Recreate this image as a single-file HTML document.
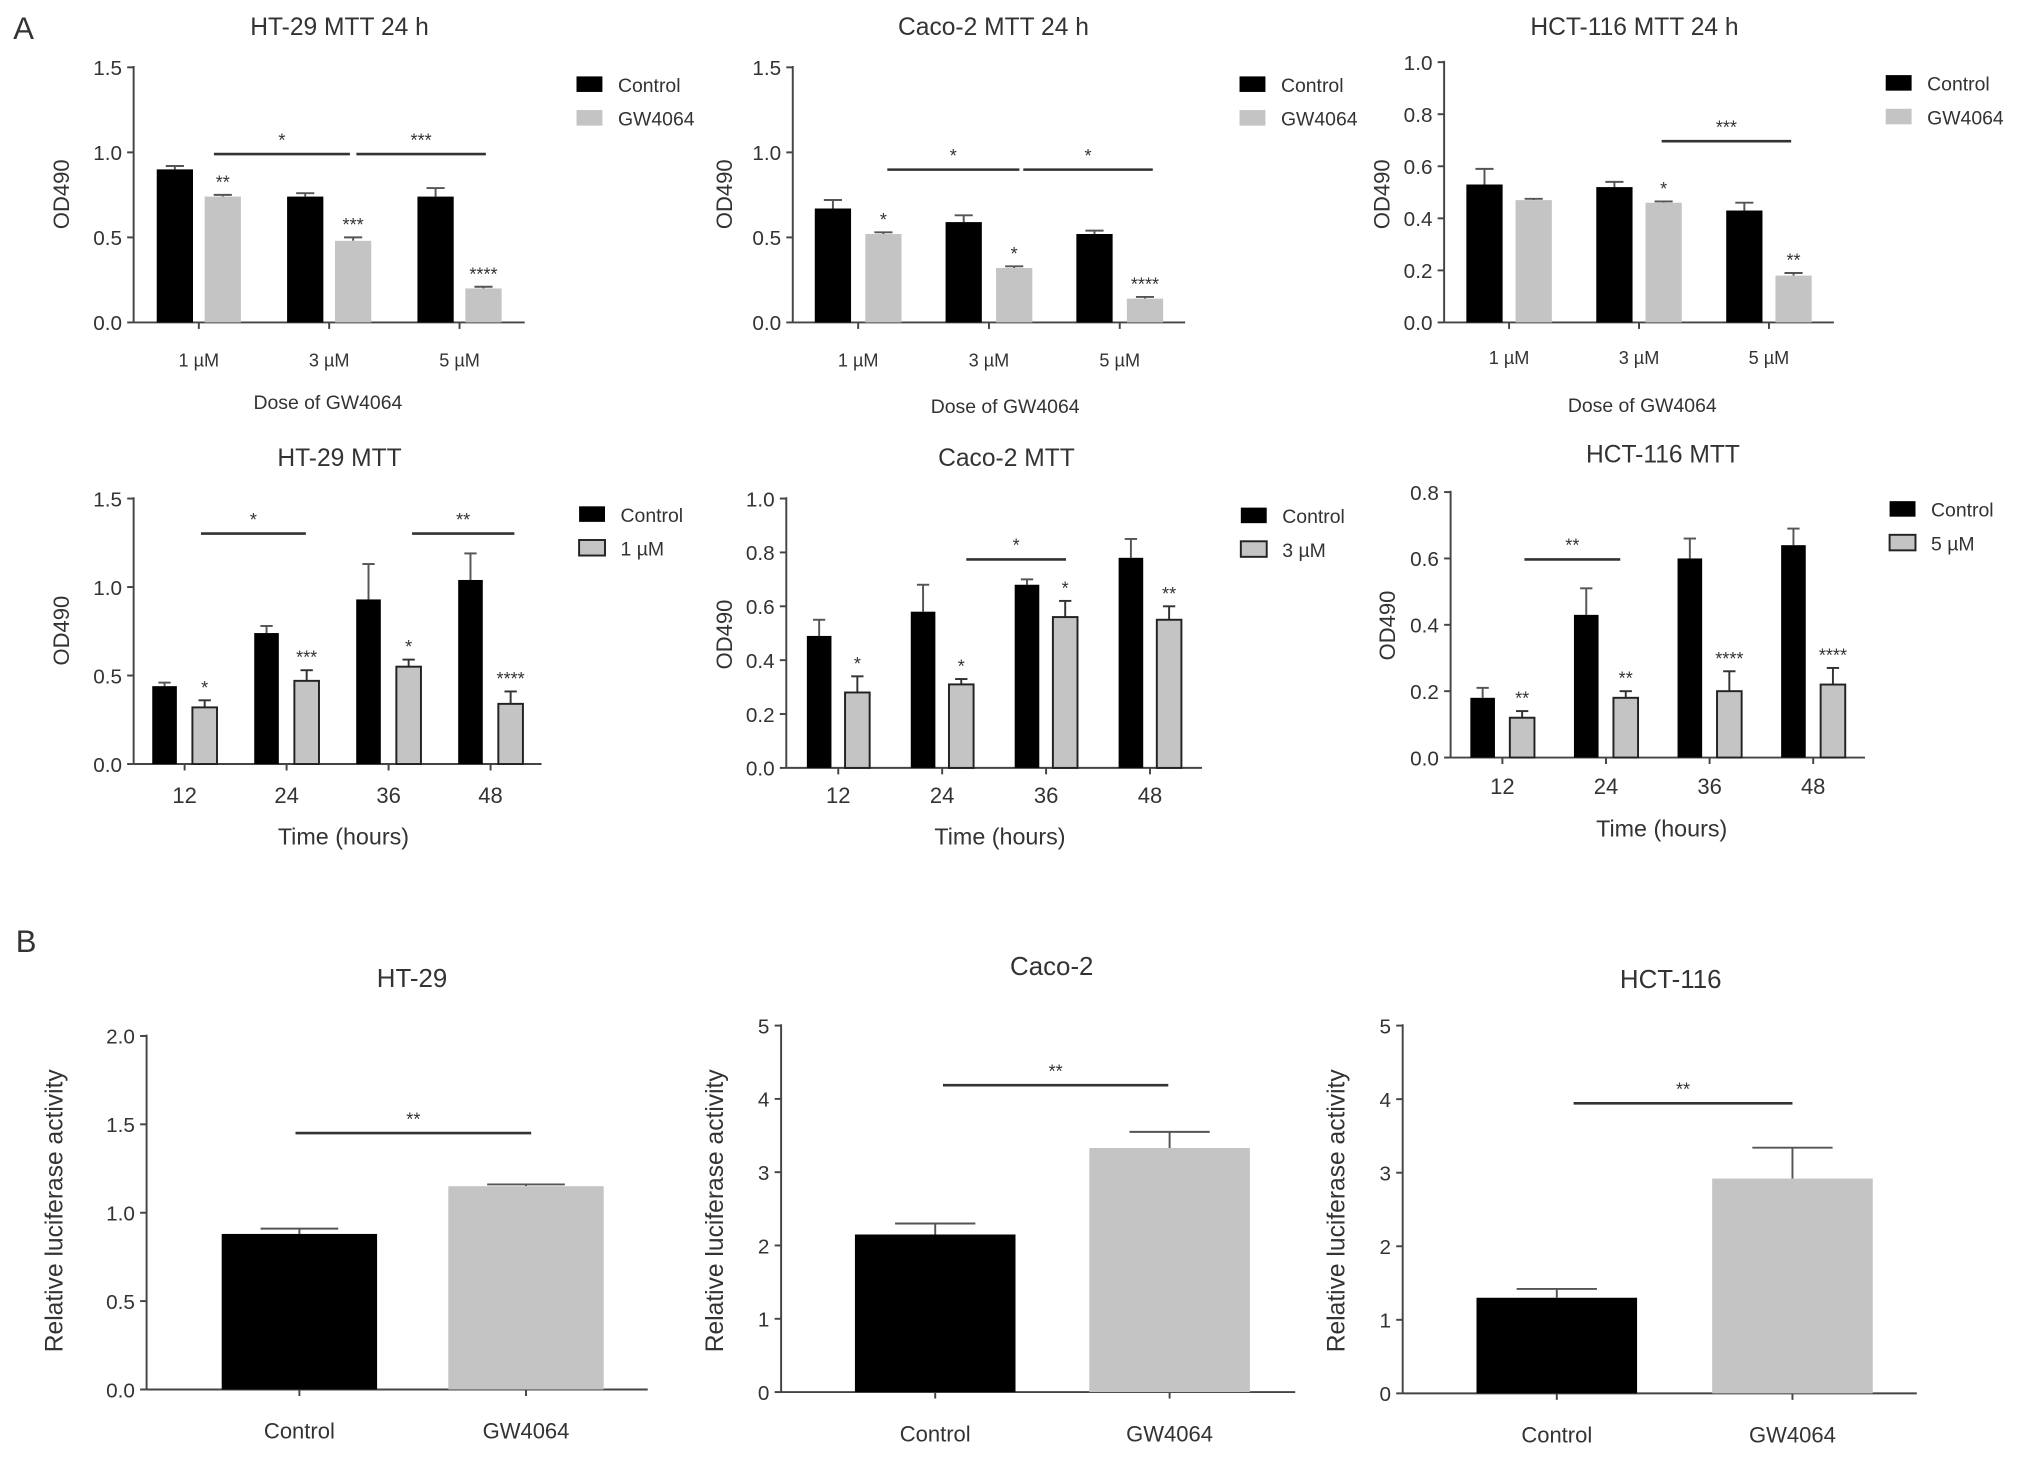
<!DOCTYPE html>
<html><head><meta charset="utf-8"><style>
html,body{margin:0;padding:0;background:#fff}
svg{display:block}
text{font-family:"Liberation Sans",sans-serif;fill:#333}
</style></head><body>
<svg id="fig" width="2031" height="1462" viewBox="0 0 1568 1129" xmlns="http://www.w3.org/2000/svg">
<text x="10" y="30" font-size="24">A</text>
<text x="12" y="735" font-size="24">B</text>
</svg>
<script>
// ----- data -----
const doseCats = ["1 µM","3 µM","5 µM"];
const timeCats = ["12","24","36","48"];
const lucCats = ["Control","GW4064"];
const ht29DoseCtrl = [0.90,0.74,0.74], ht29DoseGW = [0.74,0.48,0.20];
const ht29DoseCtrlErr = [0.02,0.02,0.05], ht29DoseGWErr = [0.01,0.02,0.01];
const caco2DoseCtrl = [0.67,0.59,0.52], caco2DoseGW = [0.52,0.32,0.14];
const caco2DoseCtrlErr = [0.05,0.04,0.02], caco2DoseGWErr = [0.01,0.01,0.01];
const hctDoseCtrl = [0.53,0.52,0.43], hctDoseGW = [0.47,0.46,0.18];
const hctDoseCtrlErr = [0.06,0.02,0.03], hctDoseGWErr = [0.005,0.005,0.01];
const ht29TimeCtrl = [0.44,0.74,0.93,1.04], ht29TimeTrt = [0.32,0.47,0.55,0.34];
const ht29TimeCtrlErr = [0.02,0.04,0.20,0.15], ht29TimeTrtErr = [0.04,0.06,0.04,0.07];
const caco2TimeCtrl = [0.49,0.58,0.68,0.78], caco2TimeTrt = [0.28,0.31,0.56,0.55];
const caco2TimeCtrlErr = [0.06,0.10,0.02,0.07], caco2TimeTrtErr = [0.06,0.02,0.06,0.05];
const hctTimeCtrl = [0.18,0.43,0.60,0.64], hctTimeTrt = [0.12,0.18,0.20,0.22];
const hctTimeCtrlErr = [0.03,0.08,0.06,0.05], hctTimeTrtErr = [0.02,0.02,0.06,0.05];
const ht29Luc = [0.88,1.15], ht29LucErr = [0.03,0.01];
const caco2Luc = [2.15,3.33], caco2LucErr = [0.15,0.22];
const hctLuc = [1.30,2.92], hctLucErr = [0.12,0.42];
const ticks15 = ["0.0","0.5","1.0","1.5"];
const ticks10 = ["0.0","0.2","0.4","0.6","0.8","1.0"];
const ticks08 = ["0.0","0.2","0.4","0.6","0.8"];
const ticks20 = ["0.0","0.5","1.0","1.5","2.0"];
const ticks5 = ["0","1","2","3","4","5"];

const NS="http://www.w3.org/2000/svg", svg=document.getElementById('fig');
function mk(tag,at,parent){const e=document.createElementNS(NS,tag);for(const k in at)e.setAttribute(k,at[k]);(parent||svg).appendChild(e);return e;}
function txt(s,x,y,size,anchor,parent,rot){const t=mk('text',{x:x,y:y,'font-size':size,'text-anchor':anchor||'middle'},parent);if(rot)t.setAttribute('transform','rotate(-90 '+x+' '+y+')');t.textContent=s;return t;}

function panel(o){
  const g=mk('g',{});
  
  
  const ymax=parseFloat(o.ticks[o.ticks.length-1]);
  const y=v=>o.y0-(v/ymax)*(o.y0-o.ytop);
  const n=o.cats.length;
  mk('line',{x1:o.ax,y1:o.ytop-1,x2:o.ax,y2:o.y0,stroke:'#444','stroke-width':1.5},g);
  mk('line',{x1:o.ax,y1:o.y0,x2:o.axEnd,y2:o.y0,stroke:'#444','stroke-width':1.5},g);
  o.ticks.forEach(t=>{const yy=y(parseFloat(t));
    mk('line',{x1:o.ax-5,y1:yy,x2:o.ax,y2:yy,stroke:'#444','stroke-width':1.5},g);
    const tl=txt(t,o.ax-9,yy+6,o.tfs||16,'end',g);
    
    });
  const gw=(o.axEnd-o.ax)/n;
  o.cats.forEach((c,i)=>{const cx=o.cx0!==undefined?o.cx0+i*o.cstep:o.ax+gw*(i+0.5);
    mk('line',{x1:cx,y1:o.y0,x2:cx,y2:o.y0+5,stroke:'#444','stroke-width':1.5},g);
    const l=txt(c,cx,o.y0+o.xlOff,o.xfs||16,'middle',g);
    
    
    o.series.forEach((s,j)=>{
      const bx=cx+(j-(o.series.length-1)/2)*o.pitch-o.bw/2;
      const v=s.vals[i],e=s.err[i];
      const ex=bx+o.bw/2;
      const fill=s.fills?s.fills[i]:s.fill;
      mk('line',{x1:ex,y1:y(v),x2:ex,y2:y(v+e),stroke:s.outline?'#333':'#555','stroke-width':1.5},g);
      mk('line',{x1:ex-o.bw*0.25,y1:y(v+e),x2:ex+o.bw*0.25,y2:y(v+e),stroke:s.outline?'#333':'#555','stroke-width':1.5},g);
      const r=mk('rect',{x:bx,y:y(v),width:o.bw,height:o.y0-y(v),fill:fill,stroke:s.outline?'#222':'none','stroke-width':1.5},g);
      
      
      if(s.stars&&s.stars[i]){const st=txt(s.stars[i],ex,y(v+e)-5,14,'middle',g);
        
        }
    });
  });
  (o.brackets||[]).forEach(b=>{mk('line',{x1:b[0],y1:b[2],x2:b[1],y2:b[2],stroke:'#333','stroke-width':2},g);
    const st=txt(b[3],(b[0]+b[1])/2,b[2]-6,14,'middle',g);
    
    });
  const ti=txt(o.title,o.tx,o.ty,o.tsz||19,'middle',g);
  
  
  const yl=txt(o.ylabel,o.ylx,o.yly,o.ylfs||17,'middle',g,true);
  
  
  if(o.xtitle){const xt=txt(o.xtitle,o.xtx,o.xty,o.xtfs||15,'middle',g);
    
    }
  if(o.legend){o.series.forEach((s,j)=>{const ly=o.legend[1]+j*26;
    const lr=mk('rect',{x:o.legend[0],y:ly-13,width:20,height:12,fill:s.fill,stroke:s.outline?'#222':'none','stroke-width':1.5},g);
    
    
    const lt=txt(s.label,o.legend[0]+32,ly-1,15,'start',g);
    
    });}
}
const BLK='#000',GRY='#c4c4c4';
panel({name:'ht29-mtt-24h',title:'HT-29 MTT 24 h',tx:262,ty:27,ax:103,axEnd:405,y0:249,ytop:52,ticks:ticks15,cats:doseCats,xlOff:34,xfs:14,pitch:37,bw:28,
 series:[{key:'control',label:'Control',fill:BLK,vals:ht29DoseCtrl,err:ht29DoseCtrlErr},{key:'gw4064',label:'GW4064',fill:GRY,vals:ht29DoseGW,err:ht29DoseGWErr,stars:['**','***','****']}],
 brackets:[[165,270,119,'*'],[275,375,119,'***']],ylabel:'OD490',ylx:53,yly:150,xtitle:'Dose of GW4064',xtx:253,xty:316,legend:[445,72]});
panel({name:'caco2-mtt-24h',title:'Caco-2 MTT 24 h',tx:767,ty:27,ax:612,axEnd:915,y0:249,ytop:52,ticks:ticks15,cats:doseCats,xlOff:34,xfs:14,pitch:39,bw:28,
 series:[{key:'control',label:'Control',fill:BLK,vals:caco2DoseCtrl,err:caco2DoseCtrlErr},{key:'gw4064',label:'GW4064',fill:GRY,vals:caco2DoseGW,err:caco2DoseGWErr,stars:['*','*','****']}],
 brackets:[[685,787,131,'*'],[790,890,131,'*']],ylabel:'OD490',ylx:565,yly:150,xtitle:'Dose of GW4064',xtx:776,xty:319,legend:[957,72]});
panel({name:'hct116-mtt-24h',title:'HCT-116 MTT 24 h',tx:1262,ty:27,ax:1115,axEnd:1416,y0:249,ytop:48,ticks:ticks10,cats:doseCats,xlOff:32,xfs:14,pitch:38,bw:28,
 series:[{key:'control',label:'Control',fill:BLK,vals:hctDoseCtrl,err:hctDoseCtrlErr},{key:'gw4064',label:'GW4064',fill:GRY,vals:hctDoseGW,err:hctDoseGWErr,stars:['','*','**']}],
 brackets:[[1283,1383,109,'***']],ylabel:'OD490',ylx:1073,yly:150,xtitle:'Dose of GW4064',xtx:1268,xty:318,legend:[1456,71]});
panel({name:'ht29-mtt-time',title:'HT-29 MTT',tx:262,ty:360,ax:103,axEnd:418,y0:590,ytop:385,ticks:ticks15,cats:timeCats,xlOff:30,xfs:17,pitch:31,bw:19,
 series:[{key:'control',label:'Control',fill:BLK,vals:ht29TimeCtrl,err:ht29TimeCtrlErr},{key:'1uM',label:'1 µM',fill:GRY,outline:true,vals:ht29TimeTrt,err:ht29TimeTrtErr,stars:['*','***','*','****']}],
 brackets:[[155,236,412,'*'],[318,397,412,'**']],ylabel:'OD490',ylx:53,yly:487,xtitle:'Time (hours)',xtx:265,xty:652,xtfs:18,legend:[447,404]});
panel({name:'caco2-mtt-time',title:'Caco-2 MTT',tx:777,ty:360,ax:607,axEnd:928,y0:593,ytop:385,ticks:ticks10,cats:timeCats,xlOff:27,xfs:17,pitch:29.5,bw:19,
 series:[{key:'control',label:'Control',fill:BLK,vals:caco2TimeCtrl,err:caco2TimeCtrlErr},{key:'3uM',label:'3 µM',fill:GRY,outline:true,vals:caco2TimeTrt,err:caco2TimeTrtErr,stars:['*','*','*','**']}],
 brackets:[[746,823,432,'*']],ylabel:'OD490',ylx:565,yly:490,xtitle:'Time (hours)',xtx:772,xty:652,xtfs:18,legend:[958,405]});
panel({name:'hct116-mtt-time',title:'HCT-116 MTT',tx:1284,ty:357,ax:1120,axEnd:1440,y0:585,ytop:380,ticks:ticks08,cats:timeCats,xlOff:28,xfs:17,pitch:30.5,bw:19,
 series:[{key:'control',label:'Control',fill:BLK,vals:hctTimeCtrl,err:hctTimeCtrlErr},{key:'5uM',label:'5 µM',fill:GRY,outline:true,vals:hctTimeTrt,err:hctTimeTrtErr,stars:['**','**','****','****']}],
 brackets:[[1177,1251,432,'**']],ylabel:'OD490',ylx:1077,yly:483,xtitle:'Time (hours)',xtx:1283,xty:646,xtfs:18,legend:[1459,400]});
panel({name:'ht29-luciferase',title:'HT-29',tx:318,ty:762,tsz:20,ax:113,axEnd:500,y0:1073,ytop:800,ticks:ticks20,cats:lucCats,xlOff:38,xfs:17,pitch:0,bw:120,cx0:231,cstep:175,
 series:[{key:'luc',label:'',fill:BLK,fills:[BLK,GRY],vals:ht29Luc,err:ht29LucErr}],brackets:[[228,410,875,'**']],ylabel:'Relative luciferase activity',ylx:48,yly:935,ylfs:19});
panel({name:'caco2-luciferase',title:'Caco-2',tx:812,ty:753,tsz:20,ax:603,axEnd:1000,y0:1075,ytop:792,ticks:ticks5,cats:lucCats,xlOff:38,xfs:17,pitch:0,bw:124,cx0:722,cstep:181,
 series:[{key:'luc',label:'',fill:BLK,fills:[BLK,GRY],vals:caco2Luc,err:caco2LucErr}],brackets:[[728,902,838,'**']],ylabel:'Relative luciferase activity',ylx:558,yly:935,ylfs:19});
panel({name:'hct116-luciferase',title:'HCT-116',tx:1290,ty:763,tsz:20,ax:1083,axEnd:1480,y0:1076,ytop:792,ticks:ticks5,cats:lucCats,xlOff:38,xfs:17,pitch:0,bw:124,cx0:1202,cstep:182,
 series:[{key:'luc',label:'',fill:BLK,fills:[BLK,GRY],vals:hctLuc,err:hctLucErr}],brackets:[[1215,1384,852,'**']],ylabel:'Relative luciferase activity',ylx:1038,yly:935,ylfs:19});
</script>
</body></html>
